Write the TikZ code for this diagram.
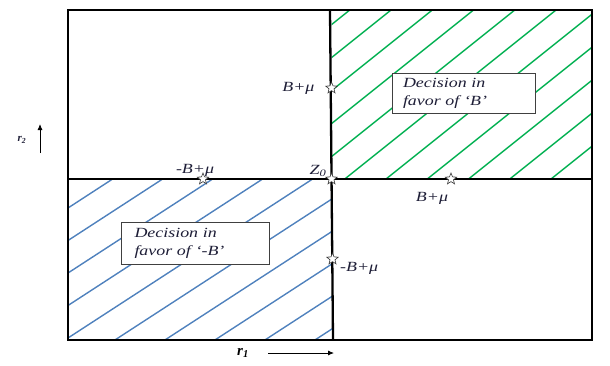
\documentclass[tikz,border=0pt]{standalone}
\usepackage{fontspec}
\setmainfont{Liberation Serif}
\newfontfamily\lblfont[FakeStretch=1.28]{Liberation Serif Italic}
\newfontfamily\axisfont{Liberation Serif Bold Italic}
\usetikzlibrary{arrows.meta, positioning, shapes.geometric}

\definecolor{hatchgreen}{RGB}{0,176,80}
\definecolor{hatchblue}{RGB}{79,129,189}
\definecolor{inkblue}{RGB}{30,30,55}

\begin{document}
\begin{tikzpicture}[
  x=1pt, y=-1pt,
  frame/.style={line width=2.8pt},
  divider/.style={line width=2.3pt},
  greenhatch/.style={draw=hatchgreen, line width=1.4pt},
  bluehatch/.style={draw=hatchblue, line width=1.4pt},
  starpt/.style={star, star points=5, star point ratio=2.3, minimum size=12pt, inner sep=0pt,
    draw=black!80, fill=white, line width=0.6pt},
  lbl/.style={inner sep=0pt, text=inkblue, font=\lblfont\fontsize{14}{16}\selectfont},
  decision/.style={draw=black!75, line width=0.8pt, fill=white, align=left, inner xsep=11pt,
    inner ysep=3pt, text=inkblue, font=\lblfont\fontsize{14}{18}\selectfont},
  axis/.style={-{Latex[length=6pt, width=5pt]}, line width=0.8pt}
]
\useasboundingbox (0,0) rectangle (610,365);

% corners of the plane and the two dividing lines
\coordinate (tl) at (68,10);
\coordinate (br) at (592,340);
\coordinate (vtop) at (330,10);
\coordinate (vbot) at (333,340);
\coordinate (hleft) at (68,179);
\coordinate (hright) at (592,179);
\coordinate (z0) at (331.5,179);

% hatching of the two decision regions
\begin{scope}
  \clip (z0) rectangle (592,10);
  \foreach \k in {0,...,10}
    \draw[greenhatch] (331,{25+33*\k}) -- ++(270,-216);
\end{scope}
\begin{scope}
  \clip (hleft) rectangle (332,340);
  \foreach \k in {0,...,9}
    \draw[bluehatch] (68,{208+32.5*\k}) -- ++(270,-175.5);
\end{scope}

\draw[frame] (tl) rectangle (br);
\draw[divider] (vtop) -- (vbot);
\draw[divider] (hleft) -- (hright);

% marked points
\node[starpt] (sBup) at (331.5,88) {};
\node[starpt] (sZ) at (z0) {};
\node[starpt] (sBright) at (451,179) {};
\node[starpt] (sNegleft) at (203,179) {};
\node[starpt] (sNegdown) at (332.5,259) {};

\node[lbl, left=13pt of sBup] (lBup) {B+μ};
\node[lbl] (lZ) at (318,171) {Z\textsubscript{0}};
\node[lbl] (lNegleft) at (195,170) {-B+μ};
\node[lbl] (lBright) at (432,198) {B+μ};
\node[lbl, anchor=west] (lNegdown) at (340,268) {-B+μ};

% decision boxes
\node[decision, minimum width=143pt, minimum height=40pt, text width=121pt] (boxB) at (463.5,93)
  {Decision in\\favor of ‘B’};
\node[decision, minimum width=147pt, minimum height=42pt, text width=122pt, inner xsep=13pt] (boxNegB) at (195.5,243)
  {Decision in\\favor of ‘-B’};

% axes
\node[font=\axisfont\fontsize{11}{12}\selectfont, text=inkblue, inner sep=0pt] (rtwo) at (22,140) {r\textsubscript{2}};
\coordinate (rtwofoot) at (40,153);
\coordinate (rtwohead) at (40,124);
\draw[axis] (rtwofoot) -- (rtwohead);

\node[font=\axisfont\fontsize{15}{16}\selectfont, inner sep=0pt] (rone) at (243,353) {r\textsubscript{1}};
\coordinate (ronefoot) at (268,353);
\coordinate (ronehead) at (334,353);
\draw[axis] (ronefoot) -- (ronehead);

\end{tikzpicture}
\end{document}
